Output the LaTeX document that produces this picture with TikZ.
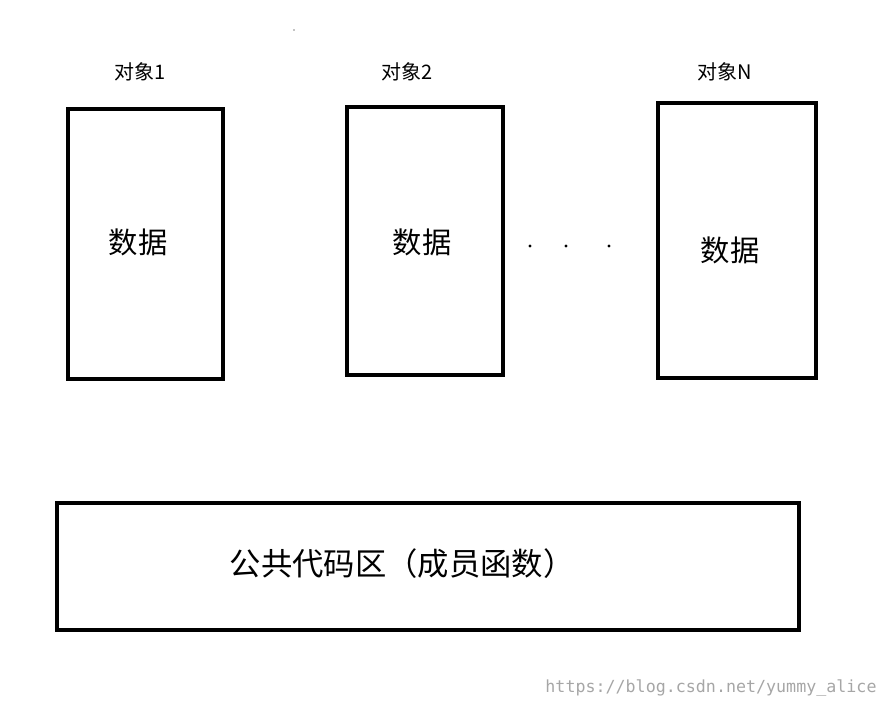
\documentclass[tikz,border=0pt]{standalone}
\usepackage{fontspec}
\setmainfont{Noto Sans CJK SC}
\setmonofont{DejaVu Sans Mono}
\usetikzlibrary{positioning}

\begin{document}
\begin{tikzpicture}[
    x=0.75pt, y=-0.75pt,
    objbox/.style={draw, line width=3pt, rectangle, inner sep=0pt},
    title/.style={font=\fontsize{15}{18}\selectfont},
    datatext/.style={font=\fontsize{22}{26}\selectfont},
    dot/.style={circle, fill=black, inner sep=0pt, minimum size=2.5pt}
]
    \useasboundingbox (0,0) rectangle (888,708);

    % Objects
    \node[objbox, minimum width=116pt, minimum height=202pt] (objA) at (145.5,244) {};
    \node[objbox, minimum width=117pt, minimum height=201pt] (objB) at (425,241) {};
    \node[objbox, minimum width=118pt, minimum height=206pt] (objN) at (737,240.5) {};

    \node[title] (titleA) at (140,72) {对象1};
    \node[title] (titleB) at (407,72) {对象2};
    \node[title] (titleN) at (725,72) {对象N};

    \node[datatext] (dataA) at (138,242) {数据};
    \node[datatext] (dataB) at (422,242) {数据};
    \node[datatext] (dataN) at (730,250) {数据};

    % Ellipsis
    \node[dot] (dot1) at (530,246) {};
    \node[dot] (dot2) at (566,246) {};
    \node[dot] (dot3) at (609,246) {};
    \node[circle, fill=black, inner sep=0pt, minimum size=1pt] (speck) at (294,30) {};

    % Shared code
    \node[objbox, minimum width=556pt, minimum height=95pt] (code) at (428,566.5) {};
    \node[font=\fontsize{23.5}{28}\selectfont] (codetext) at (402,564) {公共代码区（成员函数）};

    % Watermark
    \node[font=\ttfamily\fontsize{12.5}{15}\selectfont, text=black!35] (mark) at (711,688) {https://blog.csdn.net/yummy\_alice};
\end{tikzpicture}
\end{document}
